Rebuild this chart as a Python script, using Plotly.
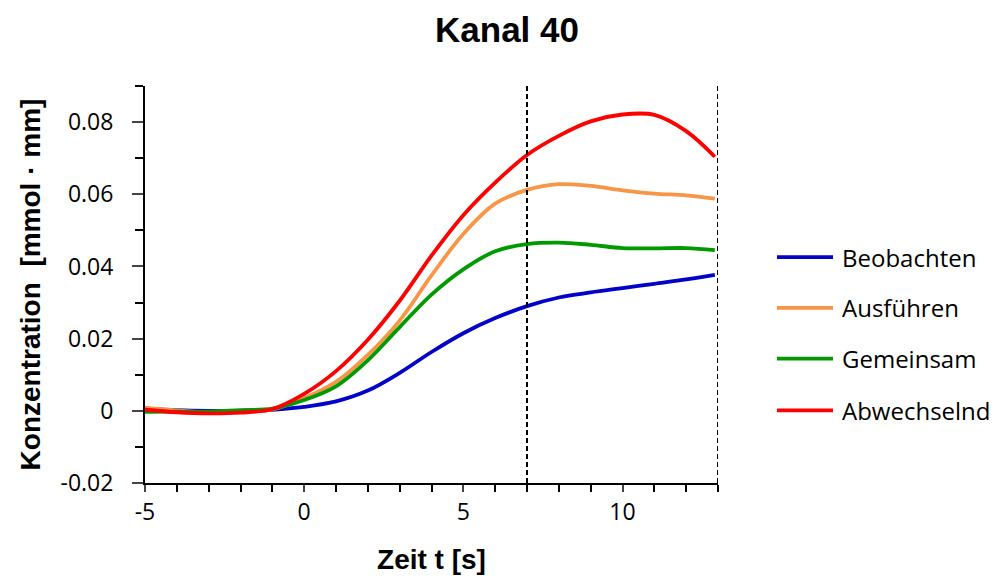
import plotly.graph_objects as go

t = [-5, -4, -3, -2, -1, 0, 1, 2, 3, 4, 5, 6, 7, 8, 9, 10, 11, 12, 12.9]

series_names = ["Beobachten", "Ausführen", "Gemeinsam", "Abwechselnd"]
series_colors = ["#0000C8", "#F79646", "#009A00", "#FF0000"]

beobachten = [0.0007, 0.0002, 0.0, 0.0, 0.0003, 0.0011, 0.0026, 0.0056, 0.0105, 0.0163, 0.0215, 0.0257, 0.0290,
              0.0314, 0.0328, 0.0340, 0.0352, 0.0364, 0.0377]
ausfuehren = [0.0008, 0.0001, -0.0005, -0.0003, 0.0004, 0.0035, 0.0080, 0.0155, 0.0250, 0.0375, 0.0490, 0.0574, 0.0612,
              0.0628, 0.0623, 0.0611, 0.0602, 0.0597, 0.0588]
gemeinsam = [-0.0003, -0.0002, -0.0002, 0.0002, 0.0006, 0.0030, 0.0068, 0.0140, 0.0232, 0.0322, 0.0392, 0.0442, 0.0462,
             0.0466, 0.0460, 0.0451, 0.0450, 0.0451, 0.0445]
abwechselnd = [0.0003, -0.0004, -0.0007, -0.0005, 0.0005, 0.0047, 0.0110, 0.0197, 0.0305, 0.0430, 0.0542, 0.0632, 0.0709,
               0.0762, 0.0802, 0.0821, 0.0820, 0.0775, 0.0704]

series_values = [beobachten, ausfuehren, gemeinsam, abwechselnd]

vlines = [7, 13]
x_range = [-5, 13]
y_range = [-0.02, 0.09]
y_ticks = [-0.02, 0, 0.02, 0.04, 0.06, 0.08]
y_ticklabels = ["-0.02", "0", "0.02", "0.04", "0.06", "0.08"]
x_ticks = [-5, 0, 5, 10]
x_ticklabels = ["-5", "0", "5", "10"]

FONT = "Open Sans"
TFONT = "Liberation Sans"

# page is offset by 8px body margin; all coordinates below are figure coords
W, H = 993, 574
L, T = 137, 78
R = W - 710
B = H - 477
pw, ph = W - L - R, H - T - B

fig = go.Figure()
for name, col, vals in zip(series_names, series_colors, series_values):
    fig.add_trace(go.Scatter(x=t, y=vals, mode="lines", name=name,
                             line=dict(color=col, width=3.8, shape="spline", smoothing=1.0),
                             showlegend=False))

for xv in vlines:
    fig.add_shape(type="line", xref="x", yref="paper", x0=xv, x1=xv, y0=0, y1=1,
                  line=dict(color="black", width=2, dash="5px,3px"))

# manual legend
legend_y = [258 - 8, 309 - 8, 360 - 8, 412 - 8]
for name, col, yy in zip(series_names, series_colors, legend_y):
    yp = 1 - (yy - T) / ph
    fig.add_shape(type="line", xref="paper", yref="paper",
                  x0=(777 - 8 - L) / pw, x1=(833 - 8 - L) / pw, y0=yp, y1=yp,
                  line=dict(color=col, width=3.8))
    fig.add_annotation(xref="paper", yref="paper", x=(840 - 8 - L) / pw, y=yp, text=name,
                       showarrow=False, xanchor="left", yanchor="middle",
                       font=dict(family=FONT, size=24, color="black"))

fig.update_layout(
    width=W, height=H,
    margin=dict(l=L, r=R, t=T, b=B),
    paper_bgcolor="white", plot_bgcolor="white",
    title=dict(text="<b>Kanal 40</b>", x=(507 - 8) / W, xanchor="center", y=1 - (30 - 8) / H, yanchor="middle",
               font=dict(family=TFONT, size=35, color="black")),
    font=dict(family=FONT, color="black"),
)
fig.update_xaxes(range=x_range, tickvals=x_ticks, ticktext=x_ticklabels, ticks="outside", ticklen=7, tickwidth=2,
                 showline=True, linecolor="black", linewidth=2, showgrid=False, zeroline=False,
                 minor=dict(dtick=1, ticks="outside", ticklen=7, tickwidth=2, tickcolor="black", showgrid=False),
                 tickfont=dict(family=FONT, size=23, color="black"),
                 title=dict(text="<b>Zeit t [s]</b>", font=dict(family=TFONT, size=28, color="black"), standoff=24))
fig.update_yaxes(range=y_range, tickvals=y_ticks, ticktext=y_ticklabels, ticks="outside", ticklen=11, tickwidth=2,
                 showline=True, linecolor="black", linewidth=2, showgrid=False, zeroline=False,
                 minor=dict(dtick=0.01, tick0=0, ticks="outside", ticklen=8, tickwidth=2, tickcolor="black", showgrid=False),
                 tickfont=dict(family=FONT, size=23, color="black"), ticklabelstandoff=14,
                 title=dict(text="<b>Konzentration  [mmol · mm]</b>", font=dict(family=TFONT, size=28, color="black"),
                            standoff=12))

fig.write_html("out.html")
